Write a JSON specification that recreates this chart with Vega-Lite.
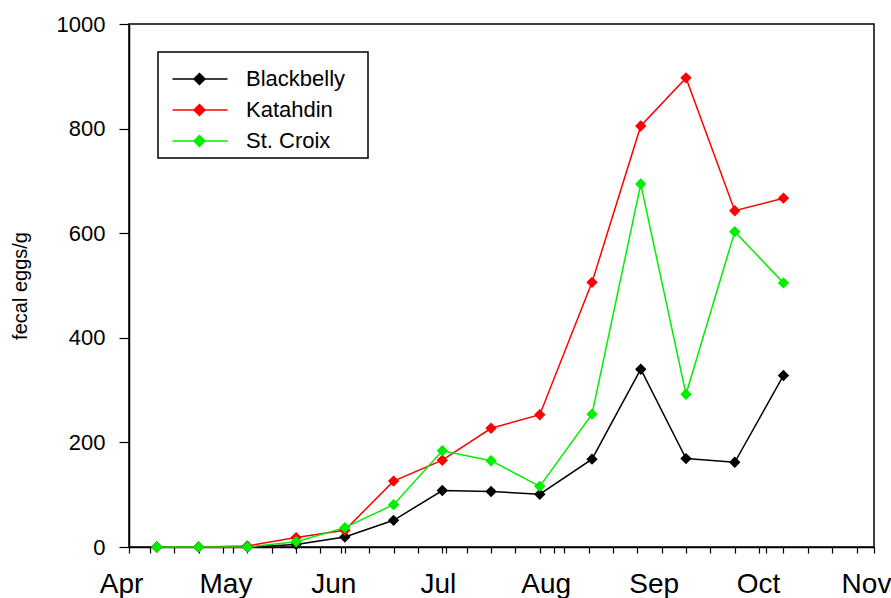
{
  "$schema": "https://vega.github.io/schema/vega-lite/v6.json",
  "width": 745,
  "height": 523,
  "autosize": {"type": "none"},
  "padding": {"left": 129, "top": 24, "right": 17, "bottom": 51},
  "background": "white",
  "config": {
    "font": "Liberation Sans",
    "view": {"stroke": "#000", "strokeWidth": 1.5},
    "axis": {
      "domainColor": "#000", "domainWidth": 1.5, "tickColor": "#000", "tickWidth": 1.2,
      "labelColor": "#000", "labelFont": "Liberation Sans",
      "titleColor": "#000", "titleFontSize": 20, "titleFontWeight": "normal", "titleFont": "Liberation Sans",
      "grid": false
    },
    "legend": {"strokeWidth": 1.5}
  },
  "data": {
    "values": [
      {"date": "2002-04-09", "breed": "Blackbelly", "eggs": 0},
      {"date": "2002-04-21", "breed": "Blackbelly", "eggs": 0},
      {"date": "2002-05-05", "breed": "Blackbelly", "eggs": 0},
      {"date": "2002-05-19", "breed": "Blackbelly", "eggs": 5},
      {"date": "2002-06-02", "breed": "Blackbelly", "eggs": 19},
      {"date": "2002-06-16", "breed": "Blackbelly", "eggs": 51},
      {"date": "2002-06-30", "breed": "Blackbelly", "eggs": 108},
      {"date": "2002-07-14", "breed": "Blackbelly", "eggs": 106},
      {"date": "2002-07-28", "breed": "Blackbelly", "eggs": 101},
      {"date": "2002-08-12", "breed": "Blackbelly", "eggs": 168},
      {"date": "2002-08-26", "breed": "Blackbelly", "eggs": 340},
      {"date": "2002-09-08", "breed": "Blackbelly", "eggs": 169},
      {"date": "2002-09-22", "breed": "Blackbelly", "eggs": 162},
      {"date": "2002-10-06", "breed": "Blackbelly", "eggs": 328},
      {"date": "2002-04-09", "breed": "Katahdin", "eggs": 0},
      {"date": "2002-04-21", "breed": "Katahdin", "eggs": 0},
      {"date": "2002-05-05", "breed": "Katahdin", "eggs": 2},
      {"date": "2002-05-19", "breed": "Katahdin", "eggs": 18},
      {"date": "2002-06-02", "breed": "Katahdin", "eggs": 32},
      {"date": "2002-06-16", "breed": "Katahdin", "eggs": 126},
      {"date": "2002-06-30", "breed": "Katahdin", "eggs": 166},
      {"date": "2002-07-14", "breed": "Katahdin", "eggs": 227},
      {"date": "2002-07-28", "breed": "Katahdin", "eggs": 253},
      {"date": "2002-08-12", "breed": "Katahdin", "eggs": 506},
      {"date": "2002-08-26", "breed": "Katahdin", "eggs": 805},
      {"date": "2002-09-08", "breed": "Katahdin", "eggs": 897},
      {"date": "2002-09-22", "breed": "Katahdin", "eggs": 643},
      {"date": "2002-10-06", "breed": "Katahdin", "eggs": 667},
      {"date": "2002-04-09", "breed": "St. Croix", "eggs": 0},
      {"date": "2002-04-21", "breed": "St. Croix", "eggs": 0},
      {"date": "2002-05-05", "breed": "St. Croix", "eggs": 0},
      {"date": "2002-05-19", "breed": "St. Croix", "eggs": 10},
      {"date": "2002-06-02", "breed": "St. Croix", "eggs": 37},
      {"date": "2002-06-16", "breed": "St. Croix", "eggs": 81},
      {"date": "2002-06-30", "breed": "St. Croix", "eggs": 184},
      {"date": "2002-07-14", "breed": "St. Croix", "eggs": 165},
      {"date": "2002-07-28", "breed": "St. Croix", "eggs": 116},
      {"date": "2002-08-12", "breed": "St. Croix", "eggs": 254},
      {"date": "2002-08-26", "breed": "St. Croix", "eggs": 694},
      {"date": "2002-09-08", "breed": "St. Croix", "eggs": 292},
      {"date": "2002-09-22", "breed": "St. Croix", "eggs": 603},
      {"date": "2002-10-06", "breed": "St. Croix", "eggs": 505}
    ]
  },
  "encoding": {
    "x": {
      "field": "date", "type": "temporal",
      "scale": {"type": "utc", "domain": [{"year": 2002, "month": 4, "date": 1, "utc": true}, {"year": 2002, "month": 11, "date": 1, "utc": true}]},
      "axis": {
        "title": null, "tickSize": 6, "labelFontSize": 28, "labelPadding": 17, "labelOffset": -8,
        "labelFlush": false, "labelOverlap": false, "labelBound": false,
        "labelExpr": "utcdate(datum.value) == 1 ? utcFormat(datum.value, '%b') : ''",
        "values": [
          {"year": 2002, "month": 4, "date": 1, "utc": true},
          {"year": 2002, "month": 4, "date": 7, "utc": true},
          {"year": 2002, "month": 4, "date": 14, "utc": true},
          {"year": 2002, "month": 4, "date": 21, "utc": true},
          {"year": 2002, "month": 4, "date": 28, "utc": true},
          {"year": 2002, "month": 5, "date": 1, "utc": true},
          {"year": 2002, "month": 5, "date": 5, "utc": true},
          {"year": 2002, "month": 5, "date": 12, "utc": true},
          {"year": 2002, "month": 5, "date": 19, "utc": true},
          {"year": 2002, "month": 5, "date": 26, "utc": true},
          {"year": 2002, "month": 6, "date": 1, "utc": true},
          {"year": 2002, "month": 6, "date": 2, "utc": true},
          {"year": 2002, "month": 6, "date": 9, "utc": true},
          {"year": 2002, "month": 6, "date": 16, "utc": true},
          {"year": 2002, "month": 6, "date": 23, "utc": true},
          {"year": 2002, "month": 6, "date": 30, "utc": true},
          {"year": 2002, "month": 7, "date": 1, "utc": true},
          {"year": 2002, "month": 7, "date": 7, "utc": true},
          {"year": 2002, "month": 7, "date": 14, "utc": true},
          {"year": 2002, "month": 7, "date": 21, "utc": true},
          {"year": 2002, "month": 7, "date": 28, "utc": true},
          {"year": 2002, "month": 8, "date": 1, "utc": true},
          {"year": 2002, "month": 8, "date": 4, "utc": true},
          {"year": 2002, "month": 8, "date": 11, "utc": true},
          {"year": 2002, "month": 8, "date": 18, "utc": true},
          {"year": 2002, "month": 8, "date": 25, "utc": true},
          {"year": 2002, "month": 9, "date": 1, "utc": true},
          {"year": 2002, "month": 9, "date": 8, "utc": true},
          {"year": 2002, "month": 9, "date": 15, "utc": true},
          {"year": 2002, "month": 9, "date": 22, "utc": true},
          {"year": 2002, "month": 9, "date": 29, "utc": true},
          {"year": 2002, "month": 10, "date": 1, "utc": true},
          {"year": 2002, "month": 10, "date": 6, "utc": true},
          {"year": 2002, "month": 10, "date": 13, "utc": true},
          {"year": 2002, "month": 10, "date": 20, "utc": true},
          {"year": 2002, "month": 10, "date": 27, "utc": true},
          {"year": 2002, "month": 11, "date": 1, "utc": true}
        ]
      }
    },
    "y": {
      "field": "eggs", "type": "quantitative",
      "scale": {"domain": [0, 1000], "nice": false},
      "axis": {"title": "fecal eggs/g", "format": "d", "labelFontSize": 22, "values": [0, 200, 400, 600, 800, 1000], "tickSize": 10, "labelPadding": 14, "titlePadding": 26}
    },
    "color": {
      "field": "breed", "type": "nominal",
      "scale": {"domain": ["Blackbelly", "Katahdin", "St. Croix"], "range": ["#000000", "#ff0000", "#00ee00"]},
      "legend": {
        "title": " ", "titleFontSize": 1, "titlePadding": 9,
        "orient": "none", "legendX": 29, "legendY": 28,
        "strokeColor": "#000", "fillColor": "#fff", "padding": 6, "cornerRadius": 0,
        "symbolType": "M-0.27,0L5.73,0M2.67,-0.6L3.27,0L2.67,0.6L2.07,0Z",
        "symbolSize": 336, "symbolStrokeWidth": 1.5,
        "labelFontSize": 22, "labelFont": "Liberation Sans", "labelColor": "#000", "labelOffset": 60, "rowPadding": 9,
        "labelExpr": "datum.label == 'Blackbelly' ? datum.label + '\u2800' : datum.label",
        "encode": {"symbols": {"update": {
          "fill": {"signal": "scale('color', datum.value)"},
          "stroke": {"signal": "scale('color', datum.value)"},
          "opacity": {"value": 1}
        }}}
      }
    }
  },
  "layer": [
    {"mark": {"type": "line", "strokeWidth": 1.5}},
    {"mark": {"type": "point", "shape": "diamond", "filled": true, "size": 130, "opacity": 1}}
  ]
}
